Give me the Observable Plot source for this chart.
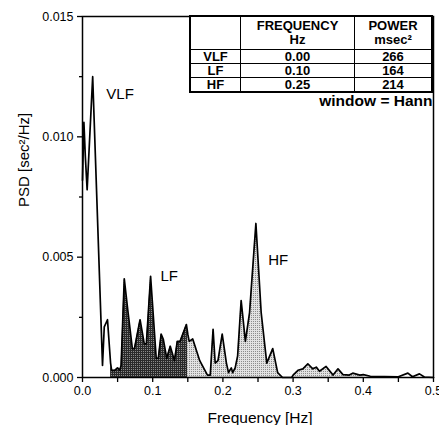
<!DOCTYPE html>
<html><head><meta charset="utf-8">
<script src="https://cdn.jsdelivr.net/npm/d3@7"></script>
<script src="https://cdn.jsdelivr.net/npm/@observablehq/plot@0.6"></script>
<style>
html,body{margin:0;padding:0;background:#fff;}
#wrap{position:relative;width:439px;height:425px;overflow:hidden;}
#tbl{position:absolute;left:189px;top:15px;width:244px;border-collapse:collapse;table-layout:fixed;border:2px solid #000;font-family:"Liberation Sans",Arial,sans-serif;font-weight:bold;font-size:13px;color:#000;background:#fff;}
#tbl td{border:1.5px solid #000;text-align:center;padding:0;line-height:13px;height:13px;}
#tbl tr.head td{height:32px;line-height:14px;}
</style></head><body><div id="wrap"></div>
<script>
// Spectrum
const freq = [0.000,0.002,0.004,0.0066,0.0145,0.0285,0.031,0.0356,0.040,0.0415,0.046,0.050,0.053,0.055,0.0595,0.0645,0.071,0.074,0.082,0.088,0.091,0.097,0.105,0.108,0.112,0.115,0.120,0.125,0.131,0.135,0.139,0.148,0.150,0.152,0.157,0.167,0.178,0.182,0.186,0.189,0.193,0.199,0.205,0.208,0.212,0.214,0.2175,0.221,0.226,0.232,0.238,0.247,0.2545,0.2625,0.271,0.278,0.285,0.298,0.300,0.307,0.314,0.321,0.328,0.333,0.3376,0.347,0.357,0.364,0.371,0.380,0.385,0.395,0.400,0.410,0.450,0.4635,0.470,0.480,0.487,0.500];
const psd  = [0.0082,0.0106,0.0092,0.0078,0.0125,0.0005,0.0021,0.0024,0.0006,0.0003,0.0003,0.0004,0.0003,0.0005,0.0041,0.0028,0.0012,0.0012,0.0024,0.0014,0.0014,0.0042,0.0008,0.0008,0.0018,0.0016,0.0008,0.0013,0.0007,0.0015,0.0015,0.0022,0.0018,0.0015,0.0016,0.0007,0.0001,0.0001,0.0020,0.0006,0.0007,0.0018,0.0006,0.0002,0.0004,0.0002,0.0004,0.0009,0.0032,0.0015,0.0027,0.0064,0.0027,0.0006,0.0012,0.0002,0.0000,0.0000,0.0001,0.0003,0.00036,0.00057,0.00036,0.00043,0.00026,0.00046,0.0001,0.00036,0.00012,0.0001,0.00018,0.0001,0.00012,0.00005,0.00003,0.00018,0.00003,0.00015,0.00002,0.0000];

// Bands
const lfBand = [0.04, 0.15];
const hfBand = [0.15, 0.40];

// Annotation labels
const bandLabel = ["VLF", "LF", "HF"];
const bandLabelF = [0.034, 0.111, 0.2645];
const bandLabelV = [0.01176, 0.0042, 0.00486];

// Table
const tableRows = ["VLF", "LF", "HF"];
const tableFreq = ["0.00", "0.10", "0.25"];
const tablePower = ["266", "164", "214"];

// Ticks
const xMajor = [0, 0.1, 0.2, 0.3, 0.4, 0.5];
const xMinor = [0.05, 0.15, 0.25, 0.35, 0.45];
const yMajor = [0, 0.005, 0.010, 0.015];
const yMinor = [0.0025, 0.0075, 0.0125];

const data = freq.map((f, i) => ({f, v: psd[i]}));
const lf = data.filter(d => d.f >= lfBand[0] && d.f <= lfBand[1]);
const hf = data.filter(d => d.f >= hfBand[0] && d.f <= hfBand[1]);
const labels = bandLabel.map((t, i) => ({t, f: bandLabelF[i], v: bandLabelV[i]}));

const svg = Plot.plot({
  width: 439, height: 425,
  marginLeft: 82, marginRight: 6, marginTop: 16, marginBottom: 48,
  x: {domain: [0, 0.5]},
  y: {domain: [0, 0.015]},
  style: {fontFamily: "'Liberation Sans',Arial,sans-serif", fontSize: "12px", color: "#000", background: "#fff"},
  marks: [
    Plot.areaY(lf, {x: "f", y: "v", fill: "url(#lfPat)"}),
    Plot.areaY(hf, {x: "f", y: "v", fill: "url(#hfPat)"}),
    Plot.line(data, {x: "f", y: "v", stroke: "#000", strokeWidth: 1.7}),
    Plot.frame({stroke: "#000", strokeWidth: 1.5}),
    Plot.axisX(xMajor, {tickSize: 5, tickPadding: 4, tickFormat: d3.format(".1f"), label: null, strokeWidth: 1.3, fontSize: 12.5}),
    Plot.axisX(xMinor, {tickSize: 5, tickFormat: () => "", label: null, strokeWidth: 1.3}),
    Plot.axisY(yMajor, {tickSize: 5, tickPadding: 4, tickFormat: d3.format(".3f"), label: null, strokeWidth: 1.3, fontSize: 12.5}),
    Plot.axisY(yMinor, {tickSize: 3, tickFormat: () => "", label: null, strokeWidth: 1.3}),
    Plot.text(labels, {x: "f", y: "v", text: "t", textAnchor: "start", lineAnchor: "middle", fontSize: 15}),
    Plot.text(["Frequency [Hz]"], {text: d => d, frameAnchor: "bottom", dx: 2, dy: 41, lineAnchor: "middle", fontSize: 15.5}),
    Plot.text(["PSD [sec²/Hz]"], {text: d => d, frameAnchor: "left", rotate: -90, dx: -58, dy: 10, lineAnchor: "middle", fontSize: 15}),
    Plot.text(["window = Hann"], {text: d => d, frameAnchor: "top-right", dx: -1, dy: 85, textAnchor: "end", lineAnchor: "middle", fontWeight: "bold", fontSize: 15.5})
  ]
});

// halftone-like fill patterns
const defs = d3.select(svg).insert("defs", ":first-child");
const p1 = defs.append("pattern").attr("id", "lfPat").attr("patternUnits", "userSpaceOnUse").attr("width", 2).attr("height", 2);
p1.append("rect").attr("width", 2).attr("height", 2).attr("fill", "#2a2a2a");
p1.append("rect").attr("x", 1).attr("y", 1).attr("width", 1).attr("height", 1).attr("fill", "#8a8a8a");
const p2 = defs.append("pattern").attr("id", "hfPat").attr("patternUnits", "userSpaceOnUse").attr("width", 2).attr("height", 2);
p2.append("rect").attr("width", 2).attr("height", 2).attr("fill", "#e2e2e2");
p2.append("rect").attr("x", 1).attr("y", 1).attr("width", 1).attr("height", 1).attr("fill", "#8c8c8c");

const wrap = document.getElementById("wrap");
wrap.appendChild(svg);

// table overlay
const tbl = d3.select(wrap).append("table").attr("id", "tbl");
const head = tbl.append("tr").attr("class", "head");
head.append("td").style("width", "49px");
head.append("td").style("width", "113px").html("FREQUENCY<br>Hz");
head.append("td").html("POWER<br>msec²");
tableRows.forEach((r, i) => {
  const tr = tbl.append("tr");
  tr.append("td").text(r);
  tr.append("td").text(tableFreq[i]);
  tr.append("td").text(tablePower[i]);
});
</script></body></html>
